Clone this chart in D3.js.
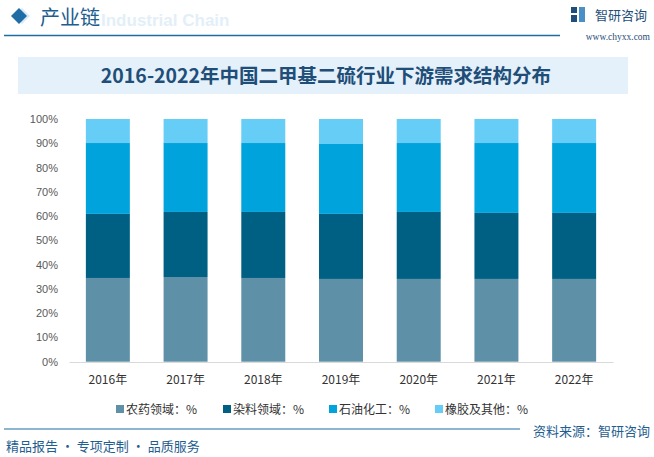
<!DOCTYPE html>
<html><head><meta charset="utf-8">
<script src="https://cdn.jsdelivr.net/npm/d3@7"></script>
<style>body{margin:0;background:#fff}svg{display:block}</style>
</head><body>
<script>
const years = ["2016年","2017年","2018年","2019年","2020年","2021年","2022年"];
const seriesNames = ["农药领域：%","染料领域：%","石油化工：%","橡胶及其他：%"];
const agriculture = [34.5, 34.9, 34.5, 34.1, 34.1, 34.1, 34.1];
const dye = [26.4, 26.8, 27.2, 26.8, 27.6, 27.2, 27.2];
const petro = [29.2, 28.4, 28.4, 28.8, 28.4, 28.8, 28.8];
const rubber = [9.9, 9.9, 9.9, 10.3, 9.9, 9.9, 9.9];
const yTicks = [0,10,20,30,40,50,60,70,80,90,100];
const colors = ["#5E91A8","#006084","#00A3DC","#66CDF6"];

const W=654,H=457;
const svg=d3.select("body").append("svg").attr("width",W).attr("height",H);
const font="'Noto Sans CJK SC','Noto Sans',sans-serif";

// header
svg.append("path").attr("d","M22,8 L30,16 L22,24 L14,16Z").attr("fill","#dbe9f4");
svg.append("path").attr("d","M19,8 L27,16 L19,24 L11,16Z").attr("fill","#1F6DA6");
svg.append("text").attr("x",101).attr("y",26).attr("font-family","Arial,sans-serif").attr("font-weight","bold")
  .attr("font-size",17).attr("fill","#E3EFF8").text("Industrial Chain");
svg.append("text").attr("x",40).attr("y",25).attr("font-family",font).attr("font-size",20)
  .attr("fill","#1C5E8F").text("产业链");
svg.append("line").attr("x1",4).attr("x2",560).attr("y1",35.5).attr("y2",35.5).attr("stroke","#1F6DA0").attr("stroke-width",1.5);
// logo
const lg=svg.append("g").attr("transform","translate(571,7)");
lg.append("rect").attr("x",0).attr("y",0).attr("width",6).attr("height",6).attr("fill","#1F4E79");
lg.append("rect").attr("x",0).attr("y",8).attr("width",6).attr("height",7).attr("fill","#1F4E79");
lg.append("rect").attr("x",8).attr("y",0).attr("width",6).attr("height",15).attr("fill","#4A90C8");
svg.append("text").attr("x",595).attr("y",20).attr("font-family",font).attr("font-size",13).attr("fill","#1F4E79").text("智研咨询");
svg.append("text").attr("x",650).attr("y",40).attr("text-anchor","end").attr("font-family","'Liberation Serif',serif")
  .attr("font-size",9.5).attr("fill","#1F4E79").text("www.chyxx.com");

// title box
svg.append("rect").attr("x",18).attr("y",57).attr("width",610).attr("height",37).attr("fill","#E4F1FA");
svg.append("text").attr("x",326).attr("y",83).attr("text-anchor","middle").attr("font-family",font)
  .attr("font-weight","bold").attr("font-size",19.5).attr("fill","#1F4E79").text("2016-2022年中国二甲基二硫行业下游需求结构分布");

// chart
const x=d3.scaleBand().domain(years).range([69,613]).paddingInner(0.434).paddingOuter(0.217);
const y=d3.scaleLinear().domain([0,100]).range([361.7,119]);
const table=years.map((yr,i)=>({year:yr,s0:agriculture[i],s1:dye[i],s2:petro[i],s3:rubber[i]}));
const stack=d3.stack().keys(["s0","s1","s2","s3"])(table);
svg.append("g").selectAll("g").data(stack).join("g").attr("fill",(d,i)=>colors[i])
  .selectAll("rect").data(d=>d).join("rect")
  .attr("x",d=>x(d.data.year)).attr("width",x.bandwidth())
  .attr("y",d=>y(d[1])).attr("height",d=>y(d[0])-y(d[1]));

const yAxis=svg.append("g").attr("transform","translate(69,0)")
  .call(d3.axisLeft(y).tickValues(yTicks).tickFormat(d=>d+"%").tickSize(0).tickPadding(11));
yAxis.select(".domain").remove();
yAxis.selectAll("text").attr("font-family","'Liberation Sans',Arial,sans-serif").attr("font-size",11).attr("fill","#595959");

const xAxis=svg.append("g").attr("transform","translate(0,362)")
  .call(d3.axisBottom(x).tickSize(0).tickPadding(13));
xAxis.select(".domain").attr("stroke","#D9D9D9");
xAxis.selectAll("text").attr("font-family",font).attr("font-size",12).attr("fill","#333");

// legend
const lx=[116,223,329,435];
const leg=svg.append("g");
seriesNames.forEach((n,i)=>{
  leg.append("rect").attr("x",lx[i]).attr("y",405).attr("width",8).attr("height",8).attr("fill",colors[i]);
  leg.append("text").attr("x",lx[i]+10).attr("y",414).attr("font-family",font).attr("font-size",12).attr("fill","#333").text(n);
});

// footer
svg.append("line").attr("x1",4).attr("x2",520).attr("y1",429).attr("y2",429).attr("stroke","#1F6DA0").attr("stroke-width",1.2);
svg.append("text").attr("x",650).attr("y",436).attr("text-anchor","end").attr("font-family",font).attr("font-size",13).attr("fill","#1F5E8F").text("资料来源：智研咨询");
svg.append("text").attr("x",6).attr("y",451).attr("font-family",font).attr("font-size",13).attr("fill","#1F5E8F").text("精品报告 · 专项定制 · 品质服务");
</script>
</body></html>
